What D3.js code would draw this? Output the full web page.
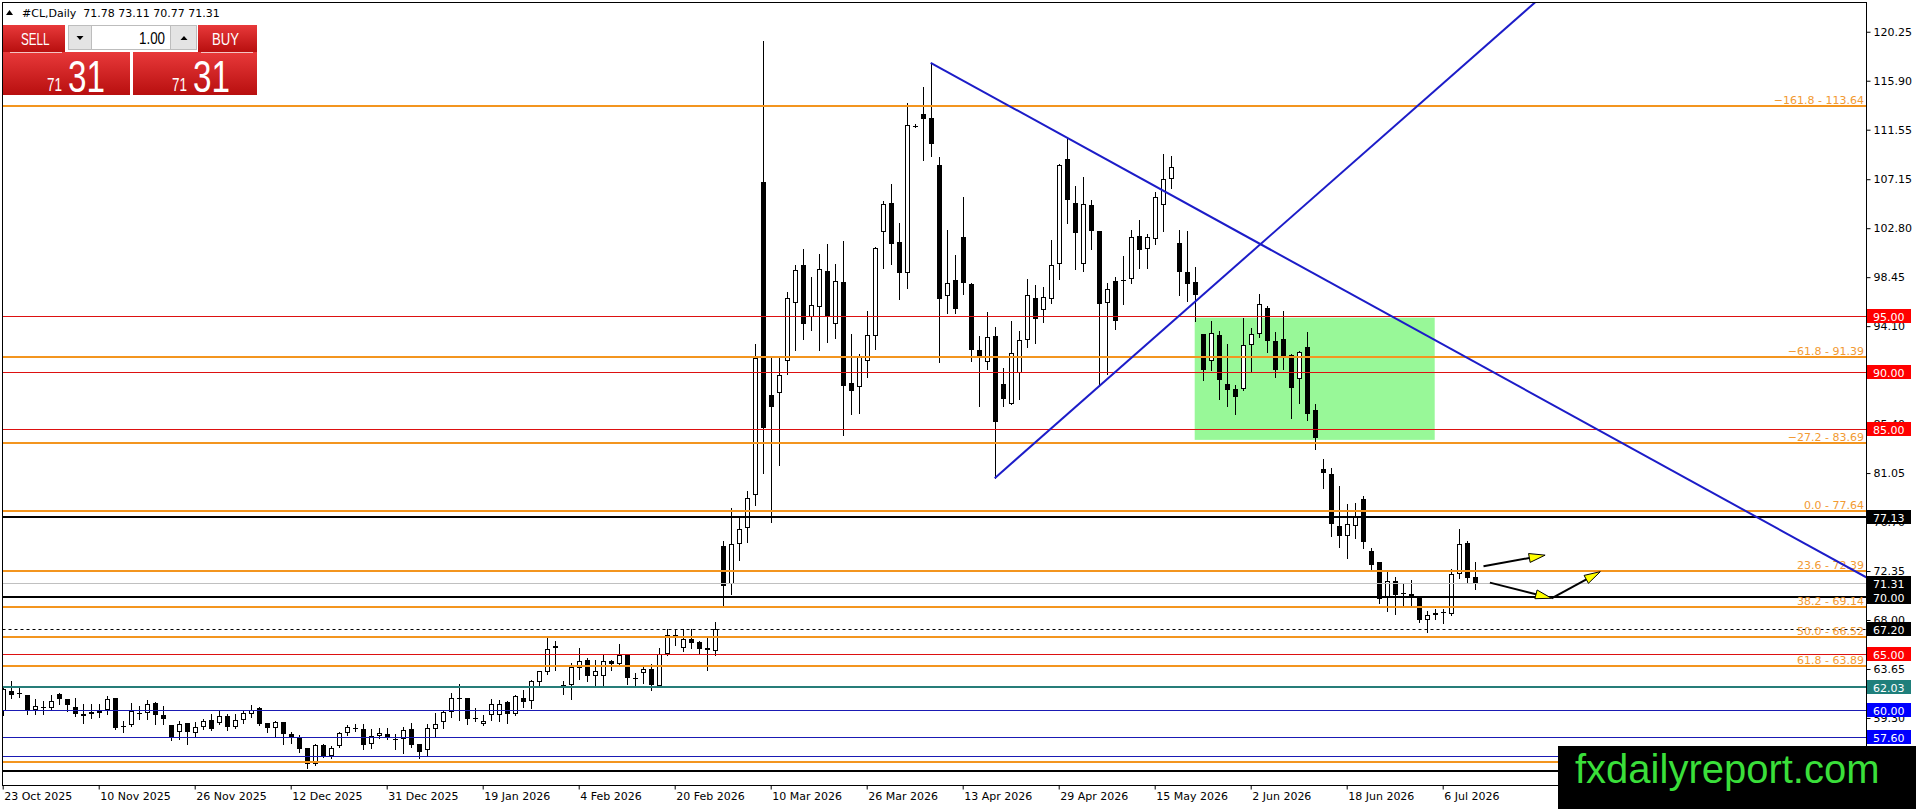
<!DOCTYPE html>
<html>
<head>
<meta charset="utf-8">
<script src="https://cdn.jsdelivr.net/npm/d3@7"></script>
<style>
html, body { margin: 0; padding: 0; background: #fff; overflow: hidden; }
svg { display: block; font-family: "DejaVu Sans", sans-serif; }
</style>
</head>
<body>
<div id="chart"></div>
<script>
// #CL daily candles
var opens = [
  59.9, 61.68, 61.5, 61.33, 59.99, 60.15, 60.2, 61.39, 60.94, 60.3,
  59.67, 59.61, 59.76, 60.05, 61.03, 58.6, 58.66, 59.68, 59.7, 60.59,
  59.52, 58.63, 58.07, 58.87, 57.98, 58.52, 59.08, 58.87, 59.46, 58.52,
  59.08, 59.61, 60.14, 58.87, 58.37, 58.93, 57.84, 57.54, 56.65, 55.17,
  56.89, 55.91, 56.8, 57.93, 58.4, 58.28, 57.0, 57.69, 57.84, 57.42,
  57.39, 58.28, 57.0, 56.41, 58.28, 58.96, 59.82, 61.03, 61.03, 59.27,
  58.72, 59.55, 59.52, 60.7, 59.61, 61.09, 60.79, 62.51, 63.4, 65.47,
  61.92, 62.27, 63.75, 64.46, 63.07, 63.01, 64.4, 64.1, 64.94, 62.82,
  63.25, 63.69, 62.12, 64.99, 66.71, 65.47, 66.27, 66.03, 65.53, 65.29,
  74.59, 71.19, 74.74, 76.16, 79.12, 106.89, 87.96, 88.17, 91.0, 96.2,
  99.55, 94.9, 95.8, 99.0, 94.3, 98.0, 89.07, 88.67, 90.97, 93.22,
  102.48, 105.0, 101.59, 98.84, 111.92, 112.9, 112.55, 108.4, 96.8, 98.2,
  102.05, 97.85, 91.95, 90.9, 93.25, 88.93, 87.22, 89.91, 92.84, 96.6,
  95.57, 96.55, 99.63, 108.96, 105.08, 99.63, 104.82, 102.57, 96.16, 98.15,
  98.16, 98.33, 102.08, 100.99, 101.87, 104.88, 107.18, 101.46, 98.9, 98.01,
  93.4, 91.0, 93.31, 89.0, 88.49, 88.49, 92.4, 93.37, 95.68, 92.78,
  92.93, 91.54, 89.38, 92.25, 86.62, 81.38, 81.0, 76.35, 75.46, 76.35,
  78.72, 74.13, 73.15, 70.05, 71.47, 70.43, 70.34, 69.93, 67.97, 68.45,
  68.64, 68.51, 72.12, 74.81, 71.78
];
var highs = [
  62.1, 62.57, 61.98, 61.38, 60.94, 60.79, 61.33, 61.48, 60.97, 61.1,
  60.5, 60.5, 60.5, 61.24, 61.09, 59.0, 60.65, 60.35, 60.88, 60.7,
  60.35, 58.66, 59.02, 58.87, 58.93, 59.17, 59.61, 59.91, 59.61, 59.61,
  60.05, 60.41, 60.26, 58.87, 59.02, 58.93, 58.07, 57.75, 56.65, 57.0,
  56.95, 56.8, 58.07, 58.66, 58.78, 58.78, 58.28, 58.43, 58.43, 57.9,
  58.49, 58.87, 57.0, 58.78, 59.76, 59.91, 61.5, 62.3, 61.03, 60.14,
  59.55, 60.94, 60.85, 60.79, 61.38, 61.74, 62.63, 63.51, 66.42, 66.12,
  62.57, 64.2, 65.53, 64.64, 64.49, 64.94, 64.49, 65.88, 65.02, 63.31,
  63.81, 64.05, 65.47, 67.16, 67.16, 67.24, 67.16, 66.12, 66.56, 67.84,
  75.04, 77.94, 77.11, 79.5, 92.53, 119.41, 91.36, 91.29, 97.1, 99.5,
  100.95, 98.45, 100.54, 101.4, 99.6, 101.65, 93.4, 91.6, 95.45, 101.1,
  105.26, 106.77, 103.28, 113.94, 112.05, 115.33, 117.49, 109.11, 102.6, 100.45,
  105.56, 97.95, 93.25, 95.4, 94.0, 90.35, 94.56, 93.67, 98.32, 97.76,
  97.6, 101.77, 108.49, 110.79, 106.59, 107.39, 105.32, 102.57, 97.92, 98.44,
  100.3, 102.65, 103.54, 102.27, 106.0, 109.37, 109.17, 102.65, 102.51, 99.33,
  93.4, 94.6, 93.67, 92.49, 88.88, 94.8, 93.97, 96.98, 95.89, 93.61,
  95.45, 91.6, 91.85, 93.61, 87.16, 82.27, 81.47, 79.9, 78.33, 78.42,
  79.02, 74.43, 73.15, 72.3, 71.82, 71.17, 71.53, 70.13, 68.8, 68.95,
  68.95, 72.5, 76.06, 75.02, 73.11
];
var lows = [
  59.6, 61.09, 61.15, 59.67, 59.67, 59.61, 60.05, 60.5, 59.9, 59.46,
  58.81, 59.31, 59.37, 59.61, 58.28, 58.07, 58.57, 59.17, 59.23, 58.72,
  58.72, 57.3, 57.39, 57.0, 57.6, 58.28, 58.19, 58.78, 58.22, 58.37,
  58.81, 59.37, 58.63, 58.07, 57.6, 56.95, 57.1, 56.3, 54.87, 55.11,
  55.82, 55.7, 56.71, 57.78, 58.13, 56.5, 56.65, 57.54, 57.39, 56.56,
  56.2, 56.71, 55.7, 55.91, 57.6, 58.37, 59.37, 59.11, 58.8, 59.02,
  58.66, 59.16, 59.07, 58.87, 59.55, 60.26, 60.14, 62.12, 63.22, 63.6,
  61.44, 61.0, 62.8, 62.57, 62.12, 62.21, 63.6, 63.99, 62.33, 62.12,
  62.42, 61.77, 62.06, 64.88, 65.82, 65.29, 65.53, 65.08, 63.6, 64.88,
  69.27, 70.3, 73.32, 74.89, 78.2, 81.1, 76.67, 81.74, 89.85, 92.0,
  92.95, 93.73, 91.95, 92.65, 93.05, 84.41, 86.33, 86.42, 89.59, 92.03,
  99.28, 99.58, 96.47, 97.51, 111.75, 108.82, 109.2, 90.94, 95.25, 95.3,
  97.0, 91.0, 87.05, 90.3, 80.6, 87.01, 87.22, 87.6, 92.28, 92.63,
  94.5, 96.15, 98.3, 103.25, 99.19, 99.03, 100.97, 88.78, 89.82, 93.82,
  96.1, 97.94, 99.27, 99.3, 101.4, 102.51, 106.35, 96.9, 96.29, 94.6,
  89.35, 90.2, 87.65, 87.05, 86.27, 88.4, 90.06, 93.1, 91.83, 89.58,
  90.27, 85.91, 87.3, 85.74, 83.16, 79.7, 75.46, 74.49, 73.54, 75.31,
  74.37, 72.41, 69.54, 68.8, 68.51, 69.25, 69.25, 67.85, 66.97, 68.06,
  67.77, 68.45, 71.7, 71.32, 70.77
];
var closes = [
  61.83, 61.33, 61.45, 60.0, 60.35, 60.25, 60.8, 60.94, 60.41, 59.61,
  59.46, 59.85, 59.96, 60.94, 58.43, 58.55, 59.91, 59.72, 60.56, 59.52,
  59.17, 57.54, 58.78, 58.07, 58.52, 59.02, 58.28, 59.46, 58.52, 59.08,
  59.7, 60.05, 58.78, 58.37, 58.93, 57.84, 57.48, 56.5, 55.23, 56.89,
  55.91, 56.59, 57.93, 58.49, 58.35, 56.89, 57.69, 57.93, 57.48, 57.37,
  58.22, 56.89, 56.3, 58.37, 58.78, 59.82, 61.03, 61.0, 59.23, 59.25,
  59.0, 60.5, 60.58, 59.61, 61.26, 60.73, 62.57, 63.45, 65.38, 65.68,
  62.27, 63.81, 64.4, 63.01, 63.45, 64.4, 64.1, 64.88, 62.86, 62.78,
  63.69, 62.21, 65.02, 66.71, 66.56, 66.27, 65.97, 65.44, 65.32, 67.24,
  70.98, 74.74, 76.07, 78.83, 91.23, 85.03, 86.92, 89.73, 96.6, 99.1,
  94.3, 95.95, 99.15, 95.02, 98.12, 88.78, 88.37, 91.48, 93.34, 101.05,
  104.97, 101.41, 98.78, 112.01, 111.9, 112.52, 110.24, 96.5, 97.9, 95.6,
  97.9, 91.95, 91.47, 93.15, 85.55, 87.6, 91.74, 92.87, 96.9, 94.77,
  96.67, 99.57, 108.37, 105.32, 102.36, 104.96, 102.57, 96.07, 97.43, 94.6,
  98.12, 101.99, 100.9, 101.99, 105.53, 107.18, 108.28, 98.92, 97.85, 96.88,
  90.23, 93.52, 89.36, 88.47, 87.77, 92.4, 93.37, 96.1, 92.78, 90.18,
  91.24, 88.64, 91.8, 86.33, 84.2, 81.09, 76.56, 75.46, 76.5, 77.24,
  74.96, 72.89, 69.84, 71.47, 70.22, 70.37, 70.05, 67.97, 68.45, 68.66,
  68.67, 72.12, 74.72, 71.76, 71.31
];

var dateLabels = ['23 Oct 2025', '10 Nov 2025', '26 Nov 2025', '12 Dec 2025', '31 Dec 2025',
  '19 Jan 2026', '4 Feb 2026', '20 Feb 2026', '10 Mar 2026', '26 Mar 2026', '13 Apr 2026',
  '29 Apr 2026', '15 May 2026', '2 Jun 2026', '18 Jun 2026', '6 Jul 2026'];
var barsPerLabel = 12;
var priceTicks = [120.25, 115.90, 111.55, 107.15, 102.80, 98.45, 94.10, 89.75, 85.40,
  81.05, 76.70, 72.35, 68.00, 63.65, 59.30, 54.95];

// horizontal levels
var fibRatios = [-161.8, -61.8, -27.2, 0.0, 23.6, 38.2, 50.0, 61.8, 100.0];
var fibPrices = [113.64, 91.39, 83.69, 77.64, 72.39, 69.14, 66.52, 63.89, 55.39];
var redLevels = [95.00, 90.00, 85.00, 65.00];
var blackLevels = [77.13, 70.00, 54.62];
var blueLevels = [60.00, 57.60, 55.90];
var tealLevels = [62.03];
var bidPrice = 71.31;
var dashedLevel = 67.20;

// objects drawn on the chart: [bar, price] points
var trendLines = [
  [[116, 117.49], [226.5, 74.31]],
  [[124, 80.6], [191.5, 122.83]]
];
var zoneBars = [149, 179];
var zonePrices = [94.85, 84.0];
var arrows = [
  [[185.1, 72.78], [192.8, 73.76]],
  [[185.9, 71.32], [193.6, 69.93]],
  [[193.6, 69.93], [199.7, 72.29]]
];

var titleText = '#CL,Daily  71.78 73.11 70.77 71.31';
var lotSize = '1.00';
var bidBig = ['71', '31'];
var askBig = ['71', '31'];

var W = 1916, H = 809;
var plotLeft = 2.5, plotRight = 1866.5, plotTop = 2.5, plotBottom = 785.5;

var svg = d3.select('#chart').append('svg')
    .attr('width', W)
    .attr('height', H);
var defs = svg.append('defs');

var x = d3.scaleLinear().domain([0, 233]).range([2.7, 1866.7]);
var y = d3.scaleLinear().domain([53.3, 122.83]).range([785.5, 2.7]);
var px = function(i) { return Math.round(x(i)); };
var py = function(v) { return Math.round(y(v)); };

defs.append('clipPath').attr('id', 'plotclip').append('rect')
    .attr('x', plotLeft).attr('y', plotTop)
    .attr('width', plotRight - plotLeft).attr('height', plotBottom - plotTop);

var plot = svg.append('g').attr('clip-path', 'url(#plotclip)');

// green zone (background)
plot.append('rect')
    .attr('x', x(zoneBars[0]))
    .attr('width', x(zoneBars[1]) - x(zoneBars[0]))
    .attr('y', y(zonePrices[0]))
    .attr('height', y(zonePrices[1]) - y(zonePrices[0]))
    .style('fill', '#98f898');

// candles
var bars = d3.range(opens.length);
var cg = plot.append('g');
cg.selectAll('line')
    .data(bars)
    .enter().append('line')
    .attr('x1', d => px(d) + 0.5)
    .attr('x2', d => px(d) + 0.5)
    .attr('y1', d => py(highs[d]))
    .attr('y2', d => py(lows[d]) + 1)
    .style('stroke', '#000')
    .style('stroke-width', 1);

var isBull = d => closes[d] > opens[d] && py(opens[d]) - py(closes[d]) >= 2;
cg.selectAll('rect.bull')
    .data(bars.filter(isBull))
    .enter().append('rect')
    .attr('x', d => px(d) - 1.5)
    .attr('y', d => py(closes[d]) + 0.5)
    .attr('width', 4)
    .attr('height', d => py(opens[d]) - py(closes[d]) - 1)
    .style('fill', '#fff')
    .style('stroke', '#000')
    .style('stroke-width', 1);
cg.selectAll('rect.bear')
    .data(bars.filter(d => !isBull(d)))
    .enter().append('rect')
    .attr('x', d => px(d) - 2)
    .attr('y', d => Math.min(py(opens[d]), py(closes[d])))
    .attr('width', 5)
    .attr('height', d => Math.max(1, Math.abs(py(closes[d]) - py(opens[d]))))
    .style('fill', '#000');

// horizontal lines
function hline(v, col, w, dash) {
  var yy = w % 2 ? py(v) + 0.5 : py(v);
  var l = plot.append('line')
      .attr('x1', plotLeft).attr('x2', plotRight)
      .attr('y1', yy).attr('y2', yy)
      .style('stroke', col)
      .style('stroke-width', w);
  if (dash) l.style('stroke-dasharray', dash);
}
hline(bidPrice, '#c0c0c0', 1);
hline(dashedLevel, '#000', 1, '3,3');
redLevels.forEach(v => hline(v, '#dd1111', 1));
blueLevels.forEach(v => hline(v, '#1a1ab4', 1));
tealLevels.forEach(v => hline(v, '#267d79', 2));
blackLevels.forEach(v => hline(v, '#000', 2));
fibPrices.forEach(v => hline(v, '#f3951f', 2));

// fibo labels
plot.selectAll('text.fib')
    .data(fibPrices)
    .enter().append('text')
    .attr('x', 1864)
    .attr('y', d => py(d) - 2)
    .attr('text-anchor', 'end')
    .style('font-size', '11px')
    .style('fill', '#f29a32')
    .text((d, k) => d3.format('.1f')(fibRatios[k]) + ' - ' + d3.format('.2f')(d));

// trend lines, extended to the right edge
trendLines.forEach(function(t) {
  var ext = d3.scaleLinear().domain([t[0][0], t[1][0]]).range([t[0][1], t[1][1]]);
  plot.append('line')
      .attr('x1', x(t[0][0])).attr('y1', y(t[0][1]))
      .attr('x2', x(233)).attr('y2', y(ext(233)))
      .style('stroke', '#1c1cc8')
      .style('stroke-width', 2);
});

// arrows
arrows.forEach(function(a) {
  var x0 = x(a[0][0]), y0 = y(a[0][1]), x1 = x(a[1][0]), y1 = y(a[1][1]);
  var len = Math.hypot(x1 - x0, y1 - y0), ux = (x1 - x0) / len, uy = (y1 - y0) / len;
  plot.append('line')
      .attr('x1', x0).attr('y1', y0).attr('x2', x1 - ux * 8).attr('y2', y1 - uy * 8)
      .style('stroke', '#000')
      .style('stroke-width', 2);
  var bx = x1 - ux * 16, by = y1 - uy * 16;
  plot.append('polygon')
      .attr('points', [[x1, y1], [bx - uy * 4.5, by + ux * 4.5], [bx + uy * 4.5, by - ux * 4.5]].join(' '))
      .style('fill', '#ffff00')
      .style('stroke', '#000')
      .style('stroke-width', 1);
});

// frame
svg.append('rect')
    .attr('x', plotLeft).attr('y', plotTop)
    .attr('width', plotRight - plotLeft).attr('height', plotBottom - plotTop)
    .style('fill', 'none')
    .style('stroke', '#000')
    .style('stroke-width', 1);

// price axis
var yAxis = svg.append('g')
    .attr('transform', 'translate(' + plotRight + ',0)')
    .call(d3.axisRight(y).tickValues(priceTicks).tickSize(4).tickSizeOuter(0).tickFormat(d3.format('.2f')));
yAxis.select('.domain').remove();
yAxis.selectAll('text').style('font-size', '11px').style('font-family', '"DejaVu Sans", sans-serif').style('fill', '#000');
yAxis.selectAll('line').style('stroke', '#000');

// time axis
var xAxis = svg.append('g')
    .attr('transform', 'translate(0,' + plotBottom + ')')
    .call(d3.axisBottom(x)
      .tickValues(dateLabels.map((d, k) => k * barsPerLabel))
      .tickSize(4).tickSizeOuter(0)
      .tickFormat((d, k) => dateLabels[k]));
xAxis.select('.domain').remove();
xAxis.selectAll('text')
    .attr('text-anchor', 'start')
    .attr('dx', 1)
    .style('font-size', '11px')
    .style('font-family', '"DejaVu Sans", sans-serif')
    .style('fill', '#000');
xAxis.selectAll('line').style('stroke', '#000');

// price boxes on the axis
var boxes = [];
redLevels.forEach(v => boxes.push([v, '#ff0000']));
blackLevels.forEach(v => boxes.push([v, '#000']));
boxes.push([bidPrice, '#000'], [dashedLevel, '#000']);
tealLevels.forEach(v => boxes.push([v, '#1f7f7b']));
blueLevels.forEach(v => boxes.push([v, '#0000ff']));
var bg = svg.append('g');
bg.selectAll('rect')
    .data(boxes)
    .enter().append('rect')
    .attr('x', 1867)
    .attr('y', d => py(d[0]) - 7)
    .attr('width', 44)
    .attr('height', 14)
    .style('fill', d => d[1]);
bg.selectAll('text')
    .data(boxes)
    .enter().append('text')
    .attr('x', 1873)
    .attr('y', d => py(d[0]) + 4.5)
    .style('font-size', '11px')
    .style('fill', '#fff')
    .text(d => d3.format('.2f')(d[0]));

// title
svg.append('polygon').attr('points', '6,15 13,15 9.5,10').style('fill', '#000');
svg.append('text')
    .attr('x', 22).attr('y', 17)
    .style('font-size', '11px')
    .style('white-space', 'pre')
    .style('fill', '#000')
    .text(titleText);

// one-click trading panel
var grad = defs.append('linearGradient').attr('id', 'redgrad')
    .attr('x1', 0).attr('y1', 0).attr('x2', 0).attr('y2', 1);
grad.append('stop').attr('offset', '0%').attr('stop-color', '#e8393a');
grad.append('stop').attr('offset', '100%').attr('stop-color', '#b80f0f');

var panel = svg.append('g').style('font-family', '"Liberation Sans", sans-serif');
[[3, 25, 62, 27], [198, 25, 59, 27], [3, 52, 127, 43], [133, 52, 124, 43]].forEach(function(r) {
  panel.append('rect').attr('x', r[0]).attr('y', r[1]).attr('width', r[2]).attr('height', r[3])
      .style('fill', 'url(#redgrad)');
});
panel.append('line').attr('x1', 10).attr('x2', 62).attr('y1', 52.5).attr('y2', 52.5).style('stroke', '#f4c4c4');
panel.append('line').attr('x1', 201).attr('x2', 253).attr('y1', 52.5).attr('y2', 52.5).style('stroke', '#f4c4c4');
panel.append('rect').attr('x', 68.5).attr('y', 25.5).attr('width', 23).attr('height', 24)
    .style('fill', '#e4e4e4').style('stroke', '#bdbdbd');
panel.append('rect').attr('x', 91.5).attr('y', 25.5).attr('width', 79).attr('height', 24)
    .style('fill', '#fff').style('stroke', '#bdbdbd');
panel.append('rect').attr('x', 170.5).attr('y', 25.5).attr('width', 26).attr('height', 24)
    .style('fill', '#e4e4e4').style('stroke', '#bdbdbd');
panel.append('polygon').attr('points', '76.5,36 83.5,36 80,40').style('fill', '#000');
panel.append('polygon').attr('points', '180.5,40 187.5,40 184,36').style('fill', '#000');

function ptext(tx, x0, y0, size, col, len, anchor) {
  panel.append('text')
      .attr('x', x0).attr('y', y0)
      .attr('text-anchor', anchor || 'start')
      .attr('textLength', len)
      .attr('lengthAdjust', 'spacingAndGlyphs')
      .style('font-size', size + 'px')
      .style('fill', col)
      .text(tx);
}
ptext('SELL', 21, 45, 17, '#fff', 28.6);
ptext('BUY', 212, 45, 17, '#fff', 27);
ptext(lotSize, 165, 43.5, 16, '#000', 26, 'end');
ptext(bidBig[0], 47, 91, 19, '#fff', 15);
ptext(bidBig[1], 68, 92, 44, '#fff', 37);
ptext(askBig[0], 172, 91, 19, '#fff', 15);
ptext(askBig[1], 193, 92, 44, '#fff', 37);

// watermark banner
svg.append('rect')
    .attr('x', 1558).attr('y', 746).attr('width', 358).attr('height', 63)
    .style('fill', '#000');
svg.append('text')
    .attr('x', 1575).attr('y', 783)
    .style('font-family', '"Liberation Sans", sans-serif')
    .style('font-size', '40px')
    .style('fill', '#3adf3a')
    .text('fxdailyreport.com');
</script>
</body>
</html>
